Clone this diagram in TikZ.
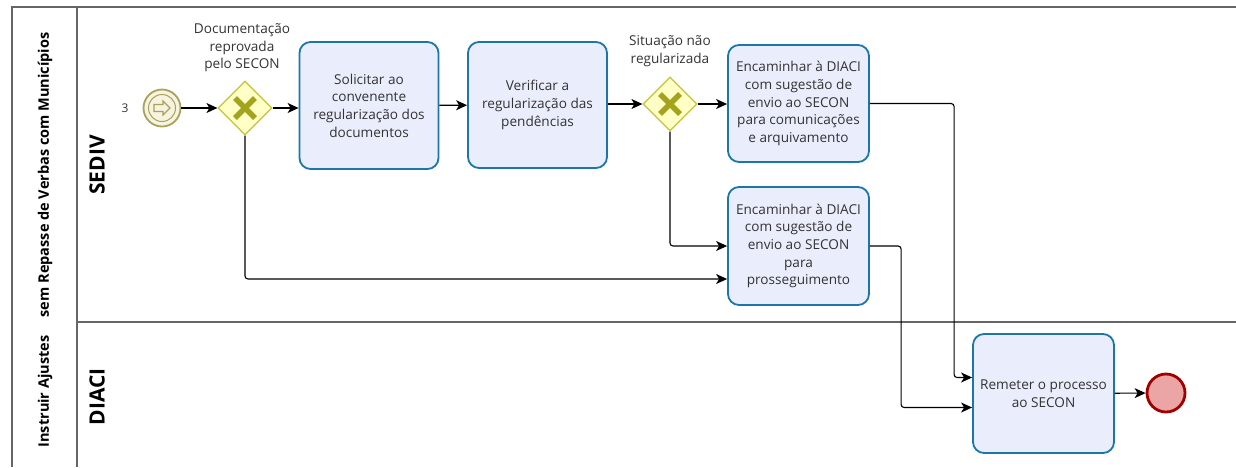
\documentclass[tikz,border=0pt]{standalone}
\usepackage{fontspec}
\setmainfont{Open Sans}
\usetikzlibrary{arrows.meta,shapes.geometric,calc,positioning}

\definecolor{taskline}{HTML}{1C76A8}
\definecolor{taskfill}{HTML}{EAEDFC}
\definecolor{gwline}{HTML}{C4C43C}
\definecolor{gwfill}{HTML}{FFFFC6}
\definecolor{gwmark}{HTML}{A3A31E}
\definecolor{evline}{HTML}{A9A25B}
\definecolor{evfill}{HTML}{F6F4E0}
\definecolor{endline}{HTML}{A00000}
\definecolor{endfill}{HTML}{EBA5A5}
\definecolor{txtgray}{HTML}{333333}
\definecolor{poolline}{HTML}{666666}

\begin{document}
\begin{tikzpicture}[x=1pt,y=-1pt,
  task/.style={draw=taskline, fill=taskfill, line width=1.8pt, rounded corners=11pt,
    align=center, inner sep=0pt, text=txtgray, font=\fontsize{13.6}{17.6}\selectfont},
  gw/.style={diamond, draw=gwline, fill=gwfill, line width=1.2pt,
    minimum width=54, minimum height=54, inner sep=0pt},
  gwx/.style={draw=gwmark, line width=5.5pt},
  lbl/.style={align=center, text=txtgray, font=\fontsize{13.6}{17.6}\selectfont},
  flow/.style={-{Stealth[length=11pt,width=10pt,inset=3pt]}, line width=1.1pt, rounded corners=3pt},
  lane/.style={rotate=90, font=\fontsize{21}{24}\bfseries\selectfont}]
\useasboundingbox (0,0) rectangle (1236,467);

% pool and lanes
\draw[poolline, line width=1.3pt] (1236,7) -- (12,7) -- (12,467);
\draw[poolline, line width=1.1pt] (77,7) -- (77,467);
\draw[poolline, line width=1.1pt] (77,322) -- (1236,322);
\node[rotate=90, font=\fontsize{14.5}{17}\bfseries\selectfont] (pool) at (45,240)
  {Instruir Ajustes\quad\ sem Repasse de Verbas com Municípios};
\node[lane] (sediv) at (97,165) {SEDIV};
\node[lane] (diaci) at (97,397) {DIACI};

% SEDIV
\node[circle, draw=evline, fill=evfill, line width=1.8pt, minimum size=37, inner sep=0pt] (start) at (162,108) {};
\draw[evline, line width=1pt] (start.center) circle (13.5);
\draw[evline, fill=evfill, line width=1.2pt] (start.center) ++(-8,-3.5) -- ++(9,0) -- ++(0,-3.5)
  -- ++(7,7) -- ++(-7,7) -- ++(0,-3.5) -- ++(-9,0) -- cycle;
\node[text=txtgray, font=\fontsize{12}{13}\selectfont] (num) at (125,108) {3};

\node[gw] (g1) at (245,108) {};
\draw[gwx] (g1.center) ++(-10,-10) -- ++(20,20);
\draw[gwx] (g1.center) ++(10,-10) -- ++(-20,20);
\node[lbl] (g1lbl) at (242,48) {Documentação\\reprovada\\pelo SECON};

\node[task, minimum width=139, minimum height=127] (t1) at (369,105.5)
  {Solicitar ao\\convenente\\regularização dos\\documentos};
\node[task, minimum width=139, minimum height=126] (t2) at (537.5,105)
  {Verificar a\\regularização das\\pendências};

\node[gw] (g2) at (670,104) {};
\draw[gwx] (g2.center) ++(-10,-10) -- ++(20,20);
\draw[gwx] (g2.center) ++(10,-10) -- ++(-20,20);
\node[lbl] (g2lbl) at (670,51) {Situação não\\regularizada};

\node[task, minimum width=141, minimum height=117] (t3) at (798.5,103.5)
  {Encaminhar à DIACI\\com sugestão de\\envio ao SECON\\para comunicações\\e arquivamento};
\node[task, minimum width=141, minimum height=118] (t4) at (798.5,246)
  {Encaminhar à DIACI\\com sugestão de\\envio ao SECON\\para\\prosseguimento};

% DIACI
\node[task, minimum width=141, minimum height=119] (t5) at (1043.5,393.5)
  {Remeter o processo\\ao SECON};
\node[circle, draw=endline, fill=endfill, line width=2.8pt, minimum size=38, inner sep=0pt] (end) at (1166,393) {};

% flows
\draw[flow] (start) -- (g1);
\draw[flow] (g1.east) -- (t1.west |- g1.east);
\draw[flow] (t1) -- (t2);
\draw[flow] (t2.east |- g2.west) -- (g2.west);
\draw[flow] (g2.east) -- (t3.west |- g2.east);
\draw[flow] (g1.south) |- ($(t4.west)+(0,33)$);
\draw[flow] (g2.south) |- (t4.west);
\draw[flow] (t3.east) -| ($(t5.west)+(-18,-16)$) -- ($(t5.west)+(0,-16)$);
\draw[flow] (t4.east) -| ($(t5.west)+(-71,14)$) -- ($(t5.west)+(0,14)$);
\draw[flow] (t5) -- (end);
\end{tikzpicture}
\end{document}
